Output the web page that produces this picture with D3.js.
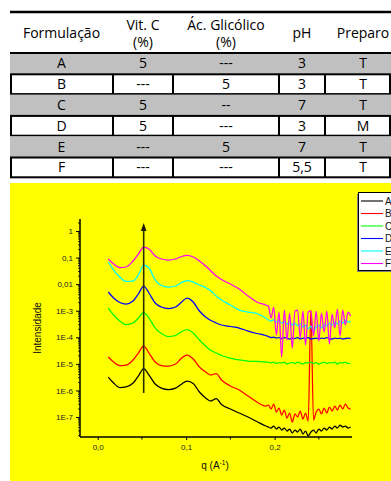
<!DOCTYPE html>
<html><head><meta charset="utf-8">
<script src="https://cdn.jsdelivr.net/npm/d3@7"></script>
<style>body{margin:0;background:#fff;} svg{display:block;}</style>
</head><body>
<svg id="c" width="391" height="481"></svg>
<script>
// ---------- table data ----------
const headers = [["Formulação"], ["Vit. C", "(%)"], ["Ác. Glicólico", "(%)"], ["pH"], ["Preparo"]];
const formulacoes = ["A", "B", "C", "D", "E", "F"];
const vitC = ["5", "---", "5", "5", "---", "---"];
const acGlicolico = ["---", "5", "--", "---", "5", "---"];
const pHvals = ["3", "3", "7", "3", "7", "5,5"];
const preparo = ["T", "T", "T", "M", "T", "T"];

// ---------- chart data ----------
const seriesNames = ["A", "B", "C", "D", "E", "F"];
const seriesColors = ["#000000", "#ff0000", "#00ff00", "#0000ff", "#00ffff", "#ff00ff"];
const qValues = [0.012, 0.018, 0.025, 0.032, 0.040, 0.046, 0.052, 0.058, 0.065, 0.072, 0.080, 0.088, 0.095, 0.101, 0.108, 0.115, 0.122, 0.128, 0.134, 0.140, 0.150, 0.160, 0.170, 0.180, 0.190,
  0.193, 0.196, 0.199, 0.202, 0.205, 0.208, 0.211, 0.214, 0.217, 0.220, 0.223, 0.226, 0.229, 0.232, 0.235, 0.238, 0.241, 0.244, 0.247, 0.250, 0.253, 0.256, 0.259, 0.262, 0.265, 0.268, 0.271, 0.274, 0.277, 0.280, 0.283, 0.286];
const intensA = [3.2e-6, 1.9e-6, 1.29e-6, 1.35e-6, 1.9e-6, 3.49e-6, 6.68e-6, 3.8e-6, 1.75e-6, 1.23e-6, 1.08e-6, 1.23e-6, 1.75e-6, 2.26e-6, 1.82e-6, 8.72e-7, 5.19e-7, 4.0e-7, 4.97e-7, 2.95e-7, 2.0e-7, 1.41e-7, 1.0e-7, 6.76e-8, 4.58e-8,
  4.2e-8, 3.85e-8, 4.58e-8, 3.53e-8, 4.2e-8, 3.24e-8, 3.85e-8, 2.97e-8, 3.53e-8, 2.5e-8, 3.24e-8, 2.72e-8, 3.53e-8, 2.29e-8, 2.97e-8, 1.93e-8, 2.72e-8, 3.24e-8, 2.5e-8, 3.53e-8, 2.97e-8, 3.85e-8, 3.24e-8, 4.2e-8, 3.53e-8, 4.58e-8, 3.85e-8, 5.0e-8, 4.2e-8, 4.58e-8, 3.85e-8, 4.2e-8];
const intensB = [1.81e-5, 1.17e-5, 8.67e-6, 9.06e-6, 1.4e-5, 2.56e-5, 4.7e-5, 2.56e-5, 1.17e-5, 8.67e-6, 8.3e-6, 9.87e-6, 1.66e-5, 2.15e-5, 1.52e-5, 7.62e-6, 4.94e-6, 3.8e-6, 4.34e-6, 2.47e-6, 1.47e-6, 1.04e-6, 6.17e-7, 3.67e-7, 2.59e-7,
  2.83e-7, 2.0e-7, 3.08e-7, 1.54e-7, 2.18e-7, 1.19e-7, 1.83e-7, 9.17e-8, 1.41e-7, 6.48e-8, 1.3e-7, 1.0e-7, 1.68e-7, 8.4e-8, 1.41e-7, 7.07e-8, 1.06e-3, 7.71e-8, 1.54e-7, 2.0e-7, 1.3e-7, 2.18e-7, 1.41e-7, 2.38e-7, 1.68e-7, 2.59e-7, 1.83e-7, 2.83e-7, 2.0e-7, 3.08e-7, 2.18e-7, 2.0e-7];
const intensC = [1.26e-3, 6.9e-4, 4.1e-4, 3.03e-4, 3.45e-4, 5.32e-4, 8.57e-4, 5.32e-4, 2.23e-4, 1.39e-4, 1.07e-4, 1.17e-4, 1.65e-4, 1.96e-4, 1.45e-4, 7.91e-5, 4.7e-5, 3.18e-5, 2.56e-5, 2.06e-5, 1.66e-5, 1.4e-5, 1.28e-5, 1.23e-5, 1.17e-5,
  1.17e-5, 1.08e-5, 1.17e-5, 1.03e-5, 1.12e-5, 1.08e-5, 1.17e-5, 9.87e-6, 1.08e-5, 1.12e-5, 1.03e-5, 1.17e-5, 1.08e-5, 9.87e-6, 1.12e-5, 1.08e-5, 1.17e-5, 1.03e-5, 1.12e-5, 9.87e-6, 1.08e-5, 1.17e-5, 1.03e-5, 1.12e-5, 1.08e-5, 1.17e-5, 9.87e-6, 1.12e-5, 1.08e-5, 1.17e-5, 1.03e-5, 1.08e-5];
const intensD = [5.06e-3, 3.01e-3, 2.04e-3, 1.79e-3, 2.32e-3, 4.26e-3, 8.51e-3, 4.65e-3, 1.95e-3, 1.38e-3, 1.21e-3, 1.38e-3, 2.13e-3, 3.01e-3, 2.13e-3, 9.75e-4, 5.8e-4, 4.28e-4, 3.45e-4, 2.9e-4, 2.55e-4, 2.23e-4, 1.72e-4, 1.39e-4, 1.17e-4,
  1.07e-4, 9.81e-5, 1.02e-4, 9.4e-5, 9.81e-5, 9.0e-5, 9.81e-5, 9.4e-5, 8.61e-5, 9.4e-5, 9.0e-5, 9.81e-5, 8.61e-5, 9.4e-5, 9.0e-5, 9.81e-5, 8.61e-5, 9.0e-5, 9.4e-5, 8.61e-5, 9.4e-5, 9.0e-5, 9.81e-5, 9.0e-5, 8.61e-5, 9.4e-5, 9.0e-5, 9.4e-5, 8.61e-5, 9.0e-5, 9.4e-5, 9.0e-5];
const intensE = [6.81e-2, 3.4e-2, 1.86e-2, 1.26e-2, 1.31e-2, 2.21e-2, 5.25e-2, 4.05e-2, 1.43e-2, 8.89e-3, 7.8e-3, 8.51e-3, 1.15e-2, 1.37e-2, 1.2e-2, 9.29e-3, 7.48e-3, 5.52e-3, 3.58e-3, 2.53e-3, 1.64e-3, 1.06e-3, 8.94e-4, 7.85e-4, 5.32e-4,
  4.47e-4, 4.1e-4, 4.67e-4, 3.76e-4, 4.28e-4, 3.45e-4, 3.93e-4, 3.16e-4, 3.76e-4, 2.9e-4, 3.45e-4, 2.66e-4, 3.16e-4, 2.44e-4, 2.9e-4, 2.05e-4, 2.66e-4, 1.72e-4, 2.44e-4, 2.9e-4, 2.23e-4, 3.16e-4, 2.66e-4, 3.45e-4, 2.9e-4, 3.76e-4, 3.16e-4, 4.1e-4, 3.45e-4, 4.47e-4, 3.76e-4, 3.93e-4];
const intensF = [8.83e-2, 5.73e-2, 4.23e-2, 4.42e-2, 7.43e-2, 1.36e-1, 2.5e-1, 2.1e-1, 1.15e-1, 8.83e-2, 8.1e-2, 8.83e-2, 1.1e-1, 1.2e-1, 1.05e-1, 7.43e-2, 4.82e-2, 3.12e-2, 2.02e-2, 1.5e-2, 1.01e-2, 6.56e-3, 3.58e-3, 2.13e-3, 1.64e-3,
  1.5e-3, 5.32e-4, 1.38e-3, 1.22e-4, 8.94e-4, 1.81e-5, 1.06e-3, 7.91e-5, 8.2e-4, 3.95e-5, 9.75e-4, 1.06e-3, 9.4e-5, 9.75e-4, 5.12e-5, 8.94e-4, 9.75e-4, 1.12e-4, 9.75e-4, 7.24e-5, 8.2e-4, 1.58e-4, 9.75e-4, 5.58e-5, 7.52e-4, 2.23e-4, 1.16e-3, 1.12e-4, 1.06e-3, 2.9e-4, 8.94e-4, 6.33e-4];
const seriesValues = [intensA, intensB, intensC, intensD, intensE, intensF];

const xTickValues = [0.0, 0.1, 0.2];
const xTickLabels = ["0,0", "0,1", "0,2"];
const xMinorTicks = [0.05, 0.15, 0.25];
const yTickValues = [1, 0.1, 0.01, 1e-3, 1e-4, 1e-5, 1e-6, 1e-7];
const yTickLabels = ["1", "0,1", "0,01", "1E-3", "1E-4", "1E-5", "1E-6", "1E-7"];
const arrowQ = 0.052;
const arrowIntensity = [8.0e-7, 1.68];

// ---------- drawing ----------
const svg = d3.select("#c");
const tableFont = "'Open Sans', sans-serif";

// table geometry
const colEdges = [10, 113, 173, 279, 325, 401];
const tableLeft = 10, tableRight = 391;
const headerTop = 12, headerBottom = 53, rowH = 20.8;
const colCenter = i => (colEdges[i] + colEdges[i + 1]) / 2;

const rows = formulacoes.map((f, i) => [f, vitC[i], acGlicolico[i], pHvals[i], preparo[i]]);

const tg = svg.append("g");
rows.forEach((r, i) => {
  const y0 = headerBottom + i * rowH;
  if (i % 2 === 0) {
    tg.append("rect").attr("x", tableLeft).attr("y", y0).attr("width", tableRight - tableLeft).attr("height", rowH).attr("fill", "#c0c0c0");
  } else {
    tg.append("rect").attr("x", 11).attr("y", y0 + 0.5).attr("width", 379).attr("height", rowH - 1)
      .attr("fill", "#fff").attr("stroke", "#000").attr("stroke-width", 2);
    colEdges.slice(1, 5).forEach(cx => {
      tg.append("line").attr("x1", cx).attr("x2", cx).attr("y1", y0).attr("y2", y0 + rowH).attr("stroke", "#000").attr("stroke-width", 2);
    });
  }
  r.forEach((v, j) => {
    tg.append("text").attr("x", colCenter(j)).attr("y", y0 + rowH / 2).attr("dy", "0.36em")
      .attr("text-anchor", "middle").attr("font-family", tableFont).attr("font-size", 14).attr("fill", "#000").text(v);
  });
});
tg.append("line").attr("x1", tableLeft).attr("x2", tableRight).attr("y1", headerTop).attr("y2", headerTop).attr("stroke", "#000").attr("stroke-width", 2.5);
tg.append("line").attr("x1", tableLeft).attr("x2", tableRight).attr("y1", headerBottom).attr("y2", headerBottom).attr("stroke", "#000").attr("stroke-width", 2);
headers.forEach((h, j) => {
  h.forEach((line, k) => {
    const cy = h.length === 1 ? 33 : (k === 0 ? 24.5 : 42);
    tg.append("text").attr("x", colCenter(j)).attr("y", cy).attr("dy", "0.36em")
      .attr("text-anchor", "middle").attr("font-family", tableFont).attr("font-size", 14).attr("fill", "#000").text(line);
  });
});

// chart background
svg.append("rect").attr("x", 10).attr("y", 183).attr("width", 381).attr("height", 298).attr("fill", "#ffff00");

const plot = { left: 80, right: 352, top: 219, bottom: 437 };
const x = d3.scaleLinear().domain([-0.02, 0.2875]).range([plot.left, plot.right]);
const y = d3.scaleLog().domain([1.77e-8, 2.83]).range([plot.bottom, plot.top]);

const axFont = "'Liberation Sans', Arial, sans-serif";

// series
const line = d3.line().x(d => x(d[0])).y(d => y(d[1])).curve(d3.curveMonotoneX);
seriesValues.forEach((vals, i) => {
  const pts = qValues.map((q, k) => [q, vals[k]]);
  svg.append("path").attr("d", line(pts)).attr("fill", "none").attr("stroke", seriesColors[i]).attr("stroke-width", 1.25);
});

// arrow
svg.append("line").attr("x1", x(arrowQ)).attr("x2", x(arrowQ)).attr("y1", y(arrowIntensity[0])).attr("y2", y(arrowIntensity[1]) + 4)
  .attr("stroke", "#2b2b00").attr("stroke-width", 1.6);
{
  const ax = x(arrowQ), ay = y(arrowIntensity[1]);
  svg.append("path").attr("d", `M${ax},${ay - 2} L${ax - 2.8},${ay + 6} L${ax + 2.8},${ay + 6} Z`).attr("fill", "#1a1a00");
}

// x axis
const xAxis = d3.axisBottom(x).tickValues(xTickValues).tickFormat((d, i) => xTickLabels[i]).tickSize(3).tickPadding(4);
const gx = svg.append("g").attr("transform", `translate(0,${plot.bottom})`).call(xAxis);
gx.selectAll("text").attr("font-family", axFont).attr("font-size", 8).attr("fill", "#222");
gx.selectAll("line").attr("stroke", "#000").attr("stroke-width", 1);
gx.select(".domain").attr("stroke", "#000").attr("stroke-width", 1.5).attr("d", `M${plot.left},0H${plot.right}`);
gx.selectAll(".minor").data(xMinorTicks).enter().append("line").attr("x1", d => x(d)).attr("x2", d => x(d)).attr("y1", 0).attr("y2", 2.5).attr("stroke", "#000");

// y axis
const yAxis = d3.axisLeft(y).tickValues(yTickValues).tickFormat((d, i) => yTickLabels[i]).tickSize(4).tickPadding(3);
const gy = svg.append("g").attr("transform", `translate(${plot.left},0)`).call(yAxis);
gy.selectAll("text").attr("font-family", axFont).attr("font-size", 8).attr("fill", "#222");
gy.selectAll("line").attr("stroke", "#000").attr("stroke-width", 1);
gy.select(".domain").attr("stroke", "#000").attr("stroke-width", 1.5).attr("d", `M0,${plot.top}V${plot.bottom}`);
const yMinor = [];
for (let e = -8; e <= 0; e++) for (let m = 2; m <= 9; m++) {
  const v = m * Math.pow(10, e);
  if (v > y.domain()[0] && v < y.domain()[1]) yMinor.push(v);
}
gy.selectAll(".minor").data(yMinor).enter().append("line").attr("x1", -2).attr("x2", 0).attr("y1", d => y(d)).attr("y2", d => y(d)).attr("stroke", "#000").attr("stroke-width", 0.8);

// axis titles
svg.append("text").attr("transform", "translate(41,328) rotate(-90)").attr("text-anchor", "middle")
  .attr("font-family", axFont).attr("font-size", 10).attr("fill", "#111").text("Intensidade");
const xt = svg.append("text").attr("x", 215).attr("y", 469).attr("text-anchor", "middle")
  .attr("font-family", axFont).attr("font-size", 10).attr("fill", "#111");
xt.append("tspan").text("q (A");
xt.append("tspan").attr("font-size", 6.5).attr("dy", -4).text("-1");
xt.append("tspan").attr("dy", 4).text(")");

// legend
const lg = svg.append("g");
lg.append("rect").attr("x", 357).attr("y", 194).attr("width", 40).attr("height", 78).attr("fill", "#808080");
lg.append("rect").attr("x", 358.5).attr("y", 192.5).attr("width", 40).attr("height", 78).attr("fill", "#fff").attr("stroke", "#000").attr("stroke-width", 1);
seriesNames.forEach((n, i) => {
  const ly = 201 + i * 12.5;
  lg.append("line").attr("x1", 361).attr("x2", 383).attr("y1", ly).attr("y2", ly).attr("stroke", seriesColors[i]).attr("stroke-width", 1.1);
  lg.append("text").attr("x", 385).attr("y", ly).attr("dy", "0.35em").attr("font-family", axFont).attr("font-size", 10).attr("fill", "#111").text(n);
});
</script></body></html>
